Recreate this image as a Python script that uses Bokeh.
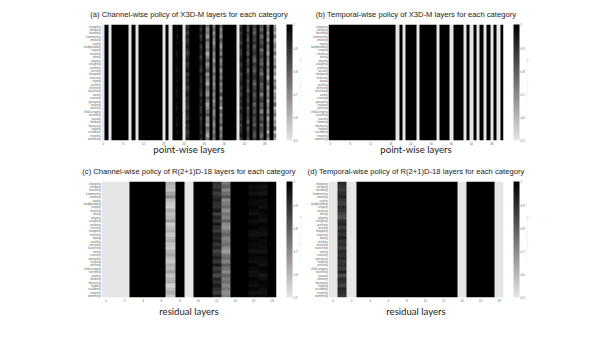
import numpy as np
from bokeh.embed import file_html
from bokeh.resources import INLINE
from bokeh.plotting import figure
from bokeh.layouts import gridplot
from bokeh.models import (ColorBar, FixedTicker, LinearAxis, LinearColorMapper, Range1d)

categories = ["chopping", "sleeping", "boarding", "hammering", "smoking", "eating",
              "bodybuilding", "singing", "cleaning", "diving", "playing", "coughing",
              "pushing", "serving", "shopping", "cheering", "drying", "tackling",
              "dressing", "launching", "voting", "crossing", "operating", "walking",
              "pitching", "child+singing", "wrestling", "waving", "climbing", "bouncing",
              "holding", "scrubbing", "erupting", "swimming"]

titles = ["(a) Channel-wise policy of X3D-M layers for each category",
          "(b) Temporal-wise policy of X3D-M layers for each category",
          "(c) Channel-wise policy of R(2+1)D-18 layers for each category",
          "(d) Temporal-wise policy of R(2+1)D-18 layers for each category"]
x_labels = ["point-wise layers", "point-wise layers", "residual layers", "residual layers"]
cbar_label = "Ratio of computed feature maps"
cbar_ticks = [0.5, 0.6, 0.7, 0.8, 0.9, 1.0]

# columns that are fully skipped (0.5); every other column is 1.0 unless listed below
a_columns = 52
a_low = [0, 2, 8, 10, 18, 20, 24, 40]
b_columns = 52
b_low = [20, 22, 26, 32, 36, 40, 42, 44, 46, 48, 50]
c_columns = 19
c_low = [0, 1, 2, 9]
d_columns = 19
d_low = [0, 2, 14, 18]

# noisy columns, values in percent, top row first
a_col22 = [98, 97, 99, 96, 98, 97, 99, 98, 96, 97, 99, 98, 97, 96, 99, 98, 97, 99, 98, 96, 97, 98, 99, 97, 96, 98, 99, 97, 98, 96, 99, 97, 98, 99]
a_col25 = [90, 92, 88, 93, 89, 91, 94, 90, 87, 92, 93, 89, 91, 95, 88, 92, 90, 93, 87, 91, 94, 89, 92, 90, 88, 93, 91, 89, 94, 90, 92, 88, 91, 93]
a_col29 = [93, 90, 94, 88, 92, 95, 89, 91, 93, 87, 92, 94, 90, 88, 95, 91, 89, 93, 92, 90, 87, 94, 91, 93, 89, 90, 95, 88, 92, 91, 93, 89, 94, 90]
a_col31 = [78, 70, 74, 66, 80, 72, 69, 76, 64, 71, 79, 68, 73, 82, 67, 75, 70, 63, 77, 72, 68, 81, 74, 65, 70, 76, 83, 69, 72, 66, 78, 71, 64, 75]
a_col33 = [74, 78, 70, 76, 72, 68, 75, 79, 71, 73, 67, 77, 74, 70, 80, 72, 76, 69, 73, 78, 71, 75, 68, 74, 79, 70, 72, 77, 73, 69, 76, 71, 78, 74]
a_col35 = [80, 72, 76, 70, 82, 74, 68, 78, 72, 84, 71, 75, 79, 69, 77, 73, 81, 70, 76, 72, 85, 68, 78, 74, 62, 80, 71, 76, 73, 83, 70, 77, 72, 79]
a_col41 = [90, 93, 88, 92, 91, 87, 94, 90, 89, 92, 95, 88, 91, 93, 86, 90, 92, 94, 89, 91, 87, 93, 90, 92, 88, 94, 91, 89, 93, 87, 90, 92, 95, 88]
a_col43 = [86, 82, 89, 85, 80, 88, 84, 87, 81, 90, 83, 86, 88, 79, 85, 89, 82, 87, 84, 80, 88, 86, 83, 90, 81, 85, 87, 84, 78, 89, 82, 86, 88, 83]
a_col45 = [88, 84, 80, 87, 85, 90, 82, 86, 89, 83, 79, 88, 85, 81, 87, 90, 84, 78, 86, 89, 82, 85, 88, 80, 87, 83, 90, 84, 86, 81, 89, 85, 82, 87]
a_col47 = [84, 80, 87, 78, 85, 82, 88, 76, 84, 86, 81, 79, 87, 83, 76, 85, 88, 80, 82, 86, 74, 84, 87, 79, 83, 72, 86, 81, 88, 78, 85, 82, 76, 84]
a_col49 = [72, 76, 68, 74, 66, 78, 70, 73, 64, 75, 71, 67, 77, 69, 72, 62, 74, 79, 66, 73, 70, 76, 63, 71, 75, 68, 78, 65, 72, 70, 74, 61, 76, 69]
a_col51 = [66, 70, 62, 74, 60, 68, 72, 64, 76, 61, 69, 65, 78, 63, 70, 58, 73, 66, 75, 60, 67, 71, 63, 79, 59, 68, 74, 62, 70, 65, 80, 57, 72, 64]

c_col7 = [62, 60, 58, 64, 70, 60, 57, 55, 62, 58, 60, 66, 56, 59, 62, 57, 60, 63, 58, 56, 61, 64, 59, 57, 62, 60, 65, 58, 61, 63, 54, 59, 62, 57]
c_col12 = [90, 88, 92, 87, 91, 93, 90, 89, 94, 86, 92, 88, 95, 90, 87, 93, 91, 94, 89, 92, 86, 90, 93, 88, 95, 87, 91, 84, 92, 89, 94, 90, 87, 93]
c_col13 = [74, 78, 71, 76, 82, 70, 73, 77, 69, 75, 72, 79, 70, 68, 74, 78, 71, 73, 76, 70, 66, 74, 77, 72, 80, 75, 70, 78, 73, 76, 71, 74, 69, 72]
c_col16 = [99, 97, 98, 96, 99, 98, 97, 99, 98, 96, 99, 97, 98, 99, 97, 96, 98, 99, 97, 98, 96, 99, 98, 97, 99, 98, 96, 97, 99, 98, 97, 99, 96, 98]
c_col17 = [98, 96, 97, 95, 99, 97, 98, 96, 99, 98, 97, 96, 99, 98, 97, 96, 99, 97, 98, 97, 96, 99, 98, 97, 96, 99, 98, 95, 97, 99, 98, 97, 96, 98]

d_col1 = [91, 89, 87, 90, 92, 88, 86, 91, 89, 85, 83, 90, 92, 87, 91, 89, 93, 88, 90, 86, 91, 89, 92, 88, 90, 87, 93, 84, 91, 89, 86, 92, 90, 88]

a_noisy = {22: a_col22, 25: a_col25, 29: a_col29, 31: a_col31, 33: a_col33, 35: a_col35,
           41: a_col41, 43: a_col43, 45: a_col45, 47: a_col47, 49: a_col49, 51: a_col51}
c_noisy = {7: c_col7, 12: c_col12, 13: c_col13, 16: c_col16, 17: c_col17}
d_noisy = {1: d_col1}

palette = ["#%02x%02x%02x" % (g, g, g) for g in np.linspace(230, 0, 256).astype(int)]
n_rows = len(categories)


def matrix(n_cols, low, noisy):
    m = np.ones((n_rows, n_cols))
    m[:, low] = 0.5
    for col, vals in noisy.items():
        m[:, col] = np.array(vals) / 100
    # cells are repeated so that the page's image smoothing stays inside each cell
    return np.repeat(np.repeat(m[::-1], 12, axis=0), 832 // n_cols, axis=1)


def panel(k, n_cols, low, noisy, step, top, bottom, left, right, title_offset, title_standoff, lab_standoff):
    m = matrix(n_cols, low, noisy)
    mapper = LinearColorMapper(palette=palette, low=0.5, high=1.0)
    p = figure(frame_width=175, frame_height=116, output_backend="svg", toolbar_location=None,
               x_range=Range1d(-0.5, n_cols - 0.5), y_range=Range1d(-0.5, n_rows - 0.5),
               min_border_top=top, min_border_bottom=bottom, min_border_left=left,
               min_border_right=right, background_fill_color="white", border_fill_color="white")
    p.image(image=[m], x=-0.5, y=-0.5, dw=n_cols, dh=n_rows, color_mapper=mapper)
    p.grid.visible = False
    p.outline_line_color = None

    p.title.text = titles[k]
    p.title.text_font = "Liberation Sans"
    p.title.text_font_style = "normal"
    p.title.text_font_size = "7.65px"
    p.title.text_color = "#222222"
    p.title.align = "center"
    p.title.offset = title_offset
    p.title.standoff = title_standoff

    p.xaxis.ticker = FixedTicker(ticks=list(range(0, n_cols, step)))
    p.xaxis.major_label_overrides = {i: str(i) for i in range(0, n_cols, step)}
    p.yaxis.ticker = FixedTicker(ticks=list(range(n_rows)))
    p.yaxis.major_label_overrides = {n_rows - 1 - i: c for i, c in enumerate(categories)}
    for ax in (p.xaxis, p.yaxis):
        ax.axis_line_color = None
        ax.major_tick_line_color = None
        ax.minor_tick_line_color = None
        ax.major_tick_out = 0
        ax.major_tick_in = 0
        ax.minor_tick_out = 0
        ax.minor_tick_in = 0
        ax.major_label_text_font = "Liberation Sans"
        ax.major_label_text_font_size = "2.9px"
        ax.major_label_text_color = "#666666"
        ax.major_label_standoff = 1
    p.xaxis.axis_label = x_labels[k]
    p.xaxis.axis_label_text_font = "Lato"
    p.xaxis.axis_label_text_font_style = "normal"
    p.xaxis.axis_label_text_font_size = "9.6px"
    p.xaxis.axis_label_text_color = "#222222"
    p.xaxis.axis_label_standoff = lab_standoff

    cb = ColorBar(color_mapper=mapper, width=6, height=116, padding=0, margin=0, location=(10, 0),
                  ticker=FixedTicker(ticks=cbar_ticks), major_tick_line_color=None,
                  bar_line_color=None, major_label_text_font="Liberation Sans",
                  major_label_text_font_size="2.9px", major_label_text_color="#666666",
                  label_standoff=1)
    p.add_layout(cb, "right")
    side = LinearAxis(axis_label=cbar_label, ticker=FixedTicker(ticks=[]), axis_line_color=None,
                      major_tick_line_color=None, minor_tick_line_color=None,
                      major_tick_out=0, major_tick_in=0, minor_tick_out=0, minor_tick_in=0,
                      major_label_standoff=0,
                      axis_label_text_font="Liberation Sans", axis_label_text_font_style="normal",
                      axis_label_text_font_size="3.3px", axis_label_text_color="#666666",
                      axis_label_standoff=-3)
    p.add_layout(side, "right")
    return p


pa = panel(0, a_columns, a_low, a_noisy, 6, 24, 19, 101, 28, 0, 12, -4)
pb = panel(1, b_columns, b_low, {}, 6, 24, 19, 24, 100, 4, 12, -4)
pc = panel(2, c_columns, c_low, c_noisy, 2, 18, 40, 101, 28, 0, 11, 1)
pd = panel(3, d_columns, d_low, d_noisy, 2, 18, 40, 24, 100, 4, 11, 1)

grid = gridplot([[pa, pb], [pc, pd]], toolbar_location=None, merge_tools=False)
open("out.html", "w").write(file_html(grid, INLINE))
